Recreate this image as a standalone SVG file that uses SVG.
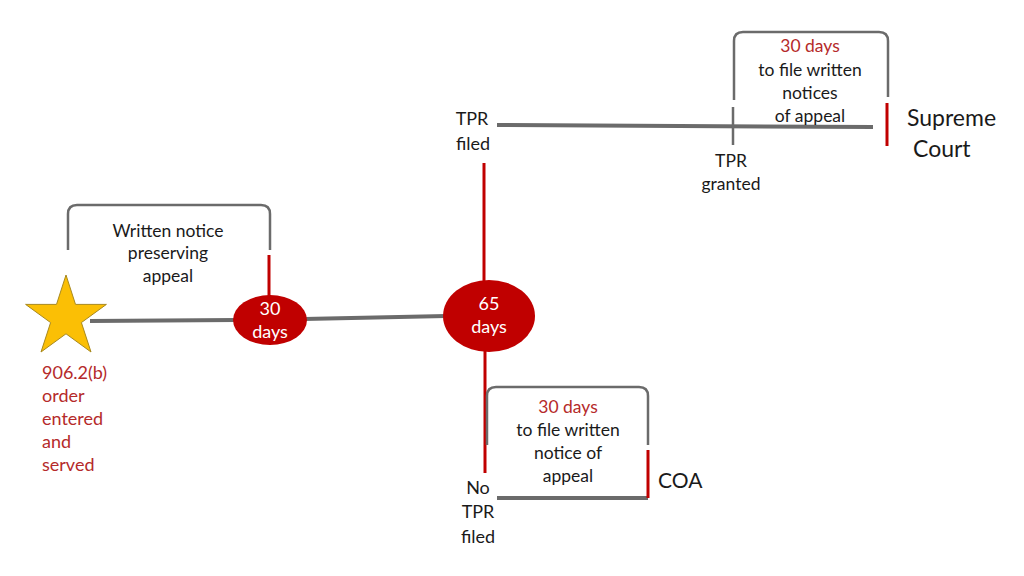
<svg xmlns="http://www.w3.org/2000/svg" width="1024" height="576" viewBox="0 0 1024 576">
<style>
text{font-family:Lato,"Open Sans","Liberation Sans",sans-serif;text-anchor:middle;fill:#1a1a1a}
.t{font-size:17.5px}
.s{font-size:18px;text-anchor:start}
.m{font-size:18px}
.l{font-size:23px;text-anchor:start}
.c{font-size:21px;text-anchor:start}
.r{fill:#b52a2a}
.w{fill:#ffffff;font-size:18px}
.g{stroke:#6b6b6b;stroke-width:4;fill:none}
.gb{stroke:#6b6b6b;stroke-width:2.5;fill:none}
.rl{stroke:#c00000;stroke-width:3;fill:none}
.el{fill:#c00000}
</style>
<rect width="1024" height="576" fill="#ffffff"/>
<g id="connectors">
<line class="g" x1="90" y1="321" x2="236" y2="320"/>
<line class="g" x1="304" y1="319" x2="446" y2="316"/>
<line class="rl" x1="484" y1="163" x2="484" y2="282"/>
<line class="rl" x1="485" y1="350" x2="485" y2="473"/>
<line class="g" x1="497" y1="125" x2="873" y2="127"/>
<line class="gb" x1="733" y1="107" x2="733" y2="145"/>
<line class="rl" x1="887" y1="103" x2="887" y2="146"/>
<line class="g" x1="497" y1="498" x2="648" y2="498"/>
<line class="rl" x1="648" y1="450" x2="648" y2="498"/>
<line class="rl" x1="269" y1="255" x2="269" y2="296"/>
</g>
<g id="bracket-left">
<path class="gb" d="M68 250 V214 Q68 205 77 205 H261 Q270 205 270 214 V250"/>
<text class="t" x="168" y="237">Written notice</text>
<text class="t" x="168" y="259">preserving</text>
<text class="t" x="168" y="282">appeal</text>
</g>
<g id="bracket-top">
<path class="gb" d="M734 100 V41 Q734 32 743 32 H879 Q888 32 888 41 V97"/>
<text class="t r" x="810" y="52">30 days</text>
<text class="t" x="810" y="76">to file written</text>
<text class="t" x="810" y="99">notices</text>
<text class="t" x="810" y="122">of appeal</text>
</g>
<g id="bracket-bottom">
<path class="gb" d="M487 445 V396 Q487 387 496 387 H639 Q648 387 648 396 V445"/>
<text class="t r" x="568" y="413">30 days</text>
<text class="t" x="568" y="436">to file written</text>
<text class="t" x="568" y="459">notice of</text>
<text class="t" x="568" y="482">appeal</text>
</g>
<g id="star">
<polygon points="66,275 75.5,304.4 106.4,304.4 81.4,322.6 91,352 66,333.8 41,352 50.6,322.6 25.6,304.4 56.5,304.4" fill="#fbbf05" stroke="#a8891e" stroke-width="1"/>
<text class="s r" x="42" y="379">906.2(b)</text>
<text class="s r" x="42" y="402">order</text>
<text class="s r" x="42" y="425">entered</text>
<text class="s r" x="42" y="448">and</text>
<text class="s r" x="42" y="471">served</text>
</g>
<g id="node-30days">
<ellipse class="el" cx="270" cy="320" rx="37" ry="25"/>
<text class="w" x="270" y="315">30</text>
<text class="w" x="270" y="338">days</text>
</g>
<g id="node-65days">
<ellipse class="el" cx="489" cy="316" rx="46" ry="36"/>
<text class="w" x="489" y="310">65</text>
<text class="w" x="489" y="333">days</text>
</g>
<g id="tpr-filed">
<text class="m" x="472" y="125">TPR</text>
<text class="m" x="473" y="150">filed</text>
</g>
<g id="tpr-granted">
<text class="t" x="731" y="167">TPR</text>
<text class="t" x="731" y="190">granted</text>
</g>
<g id="supreme-court">
<text class="l" x="907" y="126">Supreme</text>
<text class="l" x="913" y="157">Court</text>
</g>
<g id="no-tpr-filed">
<text class="m" x="478" y="494">No</text>
<text class="m" x="478" y="518">TPR</text>
<text class="m" x="478" y="543">filed</text>
</g>
<g id="coa">
<text class="c" x="658" y="488">COA</text>
</g>
</svg>
